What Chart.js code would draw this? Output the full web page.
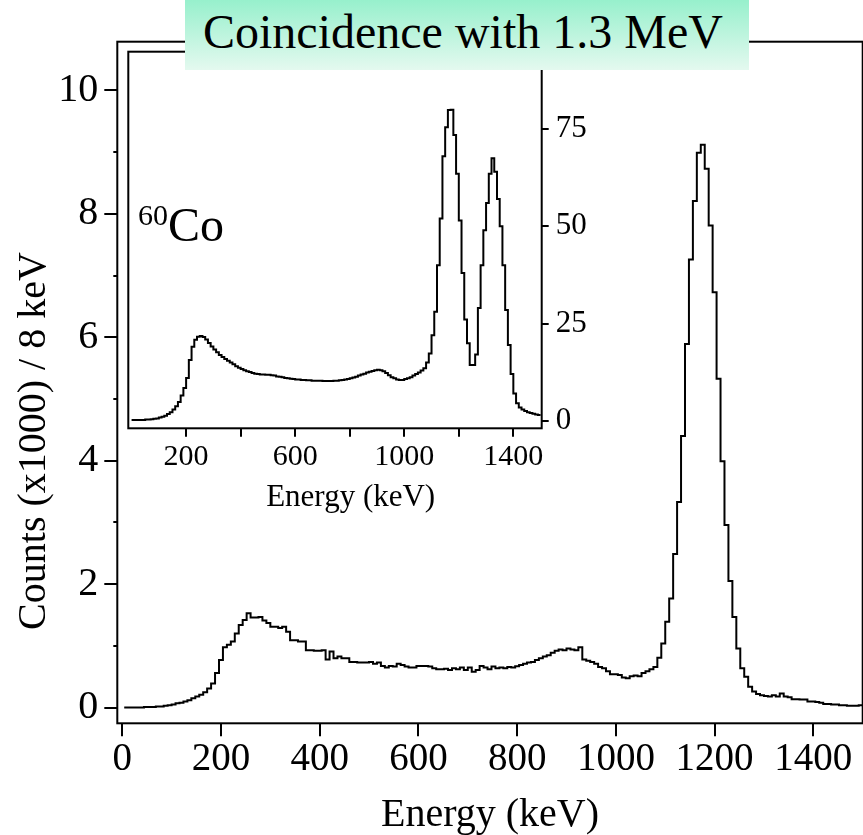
<!DOCTYPE html>
<html>
<head>
<meta charset="utf-8">
<title>Coincidence with 1.3 MeV</title>
<script src="https://cdn.jsdelivr.net/npm/chart.js@4.4.0/dist/chart.umd.min.js"></script>
<style>
  body { margin: 0; background: #fff; }
  #wrap {
    position: relative; width: 863px; height: 835px; overflow: hidden;
    font-family: "Liberation Serif", "Times New Roman", serif; color: #000;
  }
  #main { position: absolute; left: 0; top: 0; }
  #inset { position: absolute; left: 120px; top: 45px; }
  .title-box {
    position: absolute; left: 185px; top: 0; width: 564px; height: 70px;
    background: linear-gradient(#97f0cc, #e4f9ef);
  }
  .title-box span {
    position: absolute; left: 18px; top: 7.5px;
    font-size: 48px; line-height: 48px; white-space: nowrap;
  }
  .iso { position: absolute; white-space: nowrap; }
  .iso-mass { left: 138px; top: 200px; font-size: 30px; line-height: 30px; }
  .iso-sym { left: 168px; top: 201px; font-size: 48px; line-height: 48px; }
  .y-title {
    position: absolute; left: -168.5px; top: 421px; width: 400px; height: 40px;
    font-size: 40px; line-height: 40px; text-align: center; white-space: nowrap;
    transform: rotate(-90deg);
  }
  .inset-x-title {
    position: absolute; left: 200.7px; top: 479.5px; width: 300px; height: 31px;
    font-size: 31px; line-height: 31px; text-align: center; white-space: nowrap;
  }
</style>
</head>
<body>
<div id="wrap">
  <canvas id="main" width="863" height="835" style="width:863px;height:835px"></canvas>
  <canvas id="inset" width="480" height="475" style="width:480px;height:475px"></canvas>
  <div class="title-box"><span>Coincidence with 1.3 MeV</span></div>
  <span class="iso iso-mass">60</span><span class="iso iso-sym">Co</span>
  <div class="y-title">Counts (x1000) / 8 keV</div>
  <div class="inset-x-title">Energy (keV)</div>
</div>
<script>
// main spectrum: counts (x1000) per 8 keV bin, first bin starts at 4 keV
const mainBinStart = 4;
const mainBinWidth = 8;
const mainCounts = [
  0, 0, 0, 0, 0, 0.01, 0.01, 0.01, 0.02, 0.02,
  0.03, 0.04, 0.05, 0.07, 0.08, 0.10, 0.12, 0.15, 0.18, 0.21,
  0.25, 0.31, 0.39, 0.56, 0.77, 0.98, 1.02, 1.07, 1.20, 1.34,
  1.42, 1.53, 1.46, 1.46, 1.47, 1.41, 1.37, 1.31, 1.31, 1.29,
  1.31, 1.23, 1.09, 1.09, 1.07, 1.07, 0.93, 0.93, 0.92, 0.92,
  0.93, 0.78, 0.91, 0.80, 0.83, 0.80, 0.80, 0.74, 0.74, 0.73,
  0.73, 0.73, 0.74, 0.71, 0.73, 0.675, 0.65, 0.675, 0.665, 0.71,
  0.69, 0.665, 0.65, 0.65, 0.675, 0.675, 0.675, 0.665, 0.64, 0.62,
  0.62, 0.63, 0.61, 0.64, 0.62, 0.65, 0.61, 0.65, 0.58, 0.61,
  0.675, 0.65, 0.62, 0.665, 0.64, 0.65, 0.64, 0.66, 0.65, 0.67,
  0.69, 0.71, 0.73, 0.74, 0.77, 0.80, 0.83, 0.85, 0.89, 0.92,
  0.94, 0.93, 0.96, 0.94, 0.93, 0.98, 0.78, 0.76, 0.74, 0.71,
  0.66, 0.64, 0.59, 0.54, 0.54, 0.53, 0.49, 0.475, 0.51, 0.52,
  0.51, 0.56, 0.59, 0.62, 0.66, 0.81, 1.04, 1.39, 1.77, 2.49,
  3.33, 4.40, 5.89, 7.26, 8.21, 8.99, 9.12, 8.73, 7.81, 6.73,
  5.33, 3.99, 2.96, 2.05, 1.47, 0.96, 0.64, 0.50, 0.34, 0.26,
  0.22, 0.20, 0.19, 0.18, 0.20, 0.18, 0.23, 0.18, 0.17, 0.135,
  0.135, 0.13, 0.13, 0.10, 0.10, 0.09, 0.08, 0.06, 0.06, 0.05,
  0.05, 0.04, 0.04, 0.03, 0.03, 0.03, 0.04
];

// inset (60Co singles): counts per 10 keV bin starting at 0 keV
const insetBinStart = 0;
const insetBinWidth = 10;
const insetCounts = [
  0.2, 0.2, 0.2, 0.2, 0.2, 0.3, 0.3, 0.4, 0.5, 0.6,
  0.8, 1.0, 1.3, 1.7, 2.2, 2.9, 3.7, 4.8, 6.5, 8.4,
  11.0, 15.6, 19.0, 20.8, 21.6, 21.8, 21.5, 20.9, 20.0, 19.1,
  18.3, 17.6, 16.9, 16.4, 15.9, 15.4, 15.0, 14.5, 14.0, 13.6,
  13.3, 13.0, 12.7, 12.5, 12.3, 12.1, 12.0, 11.9, 11.9, 11.8,
  11.8, 11.7, 11.6, 11.4, 11.3, 11.2, 11.0, 10.9, 10.8, 10.7,
  10.6, 10.6, 10.5, 10.5, 10.4, 10.4, 10.3, 10.3, 10.3, 10.3,
  10.2, 10.2, 10.2, 10.2, 10.3, 10.3, 10.4, 10.5, 10.6, 10.7,
  10.9, 11.1, 11.3, 11.6, 11.9, 12.1, 12.4, 12.6, 12.8, 13.0,
  13.1, 13.0, 12.7, 12.3, 11.7, 11.2, 10.9, 10.6, 10.5, 10.5,
  10.7, 10.9, 11.2, 11.6, 12.0, 12.4, 12.9, 13.5, 15.0, 17.3,
  22.0, 28.0, 40.0, 52.0, 68.0, 75.5, 79.9, 80.0, 73.5, 63.5,
  51.5, 38.0, 26.0, 19.9, 14.3, 14.3, 17.0, 29.0, 40.0, 49.0,
  56.0, 63.5, 67.5, 64.0, 57.0, 50.0, 40.0, 28.5, 19.5, 12.0,
  7.0, 4.5, 3.4, 2.9, 2.5, 2.2, 2.0, 1.8, 1.6, 1.5
];

// axis ranges and tick labels
const mainXRange = [-10, 1500];
const mainYRange = [-0.254, 10.79];
const insetXRange = [-12, 1504];
const insetYRange = [-1.95, 94.9];
const insetXLabels = [200, 600, 1000, 1400];

function toSteps(counts, start, width) {
  const pts = counts.map((v, i) => ({ x: start + i * width, y: v }));
  pts.push({ x: start + counts.length * width, y: counts[counts.length - 1] });
  return pts;
}

Chart.defaults.font.family = '"Liberation Serif", "Times New Roman", serif';
Chart.defaults.color = '#000';

// plain box round the plot area
const framePlugin = {
  id: 'frame',
  afterDraw(chart) {
    const { ctx, chartArea: a } = chart;
    ctx.save();
    ctx.strokeStyle = '#000';
    ctx.lineWidth = 2;
    ctx.strokeRect(a.left, a.top, a.right - a.left, a.bottom - a.top);
    ctx.restore();
  }
};

const tickGrid = (len) => ({
  drawOnChartArea: false,
  drawTicks: true,
  tickLength: len,
  tickWidth: 2,
  lineWidth: 2,
  color: '#000'
});

// fixed axis size, and no extra room for labels sticking out at the ends
const fixSize = (key, size) => (s) => {
  s[key] = size;
  s.paddingTop = 0; s.paddingBottom = 0;
  s.paddingLeft = 0; s.paddingRight = 0;
};

new Chart(document.getElementById('main'), {
  type: 'line',
  data: {
    datasets: [{
      data: toSteps(mainCounts, mainBinStart, mainBinWidth),
      borderColor: '#000',
      borderWidth: 2,
      pointRadius: 0,
      stepped: true,
      fill: false
    }]
  },
  options: {
    responsive: false,
    animation: false,
    layout: { padding: { left: 0, right: 0.3, top: 41.7, bottom: 0 } },
    plugins: { legend: { display: false }, tooltip: { enabled: false } },
    scales: {
      x: {
        type: 'linear',
        position: 'bottom',
        min: mainXRange[0],
        max: mainXRange[1],
        ticks: {
          stepSize: 200, includeBounds: false, autoSkip: false, maxRotation: 0,
          padding: 4, font: { size: 39, lineHeight: 1 }, color: '#000',
          callback: (v) => String(v)
        },
        grid: tickGrid(13),
        border: { display: false },
        title: {
          display: true, text: 'Energy (keV)', color: '#000',
          font: { size: 40, lineHeight: 1 }, padding: { top: 2, bottom: 0 }
        },
        afterFit: fixSize('height', 111.7)
      },
      y: {
        type: 'linear',
        position: 'left',
        weight: 1,
        min: mainYRange[0],
        max: mainYRange[1],
        ticks: {
          stepSize: 2, includeBounds: false, padding: 6,
          font: { size: 40, lineHeight: 1 }, color: '#000'
        },
        grid: tickGrid(13),
        border: { display: false },
        afterFit: fixSize('width', 117.3)
      },
      yMinor: {
        type: 'linear',
        position: 'left',
        weight: 0,
        min: mainYRange[0],
        max: mainYRange[1],
        ticks: { stepSize: 1, includeBounds: false, display: false },
        grid: tickGrid(4),
        border: { display: false },
        afterFit: fixSize('width', 0)
      }
    }
  },
  plugins: [framePlugin]
});

new Chart(document.getElementById('inset'), {
  type: 'line',
  data: {
    datasets: [{
      data: toSteps(insetCounts, insetBinStart, insetBinWidth),
      borderColor: '#000',
      borderWidth: 2,
      pointRadius: 0,
      stepped: true,
      fill: false
    }]
  },
  options: {
    responsive: false,
    animation: false,
    layout: { padding: { left: 8.3, right: 0, top: 6.7, bottom: 0 } },
    plugins: { legend: { display: false }, tooltip: { enabled: false } },
    scales: {
      x: {
        type: 'linear',
        position: 'bottom',
        min: insetXRange[0],
        max: insetXRange[1],
        afterBuildTicks: (s) => { s.ticks = s.ticks.filter(t => t.value > 0); },
        ticks: {
          stepSize: 200, includeBounds: false, autoSkip: false, maxRotation: 0,
          padding: 5, font: { size: 30, lineHeight: 1 }, color: '#000',
          callback: (v) => insetXLabels.includes(v) ? String(v) : ''
        },
        grid: tickGrid(8.4),
        border: { display: false },
        afterFit: fixSize('height', 91.7)
      },
      y: {
        type: 'linear',
        position: 'right',
        min: insetYRange[0],
        max: insetYRange[1],
        ticks: {
          stepSize: 25, includeBounds: false, padding: 7,
          font: { size: 31, lineHeight: 1 }, color: '#000'
        },
        grid: tickGrid(7),
        border: { display: false },
        afterFit: fixSize('width', 58.3)
      }
    }
  },
  plugins: [framePlugin]
});
</script>
</body>
</html>
